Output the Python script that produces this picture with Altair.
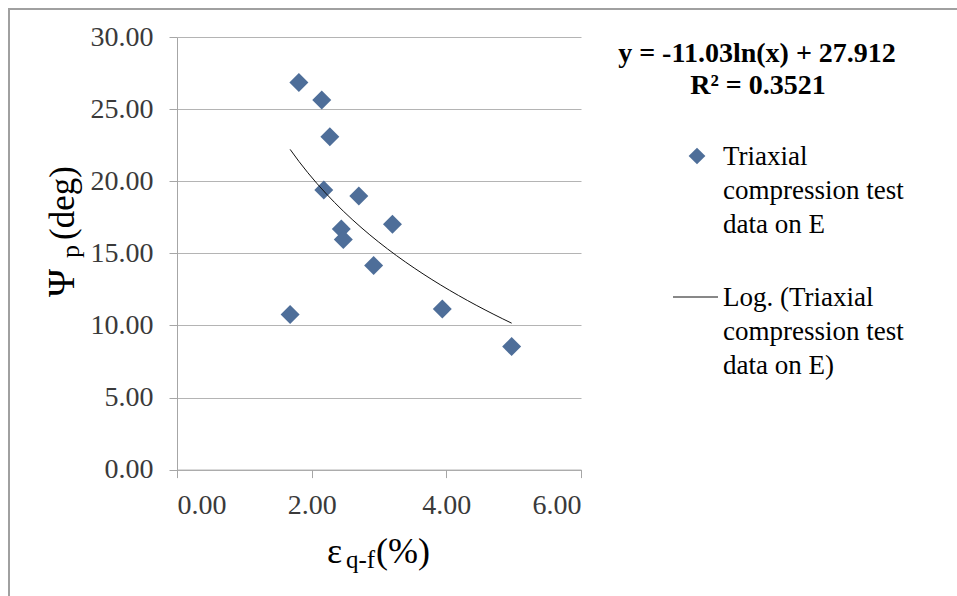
import altair as alt
import pandas as pd

# ---- data ----
strain = [1.81, 2.15, 2.27, 2.18, 2.70, 2.44, 2.47, 3.20, 2.92, 1.68, 3.94, 4.97]
psi = [26.84, 25.63, 23.09, 19.39, 18.97, 16.69, 15.95, 17.01, 14.15, 10.75, 11.14, 8.53]
x_ticks = [0, 2, 4, 6]
y_ticks = [0, 5, 10, 15, 20, 25, 30]
eq_lines = ["y = -11.03ln(x) + 27.912", "R\u00b2 = 0.3521"]
legend_pts = ["Triaxial", "compression test", "data on E"]
legend_fit = ["Log. (Triaxial", "compression test", "data on E)"]

df = pd.DataFrame({"x": strain, "y": psi})

SERIF = "Liberation Serif"
BLUE = "#4E6E99"
W, H = 404, 432.6
L, T = 177, 37

base = alt.Chart(df)

xs = alt.X("x:Q", scale=alt.Scale(domain=[0, 6], nice=False),
           axis=alt.Axis(values=x_ticks, format=".2f", title=None, grid=False,
                         tickSize=8, labelPadding=14, labelFontSize=28,
                         labelFont=SERIF, labelColor="#3a3a3a",
                         domainColor="#a6a6a6", tickColor="#a6a6a6"))
ys = alt.Y("y:Q", scale=alt.Scale(domain=[0, 30], nice=False),
           axis=alt.Axis(values=y_ticks, format=".2f", title=None, grid=True,
                         gridColor="#b4b4b4", tickSize=8, labelPadding=16,
                         labelFontSize=28, labelFont=SERIF, labelColor="#3a3a3a",
                         domainColor="#a6a6a6", tickColor="#a6a6a6"))

points = base.mark_point(shape="diamond", filled=True, size=360, opacity=1,
                         color=BLUE).encode(x=xs, y=ys)

trend = base.transform_regression("x", "y", method="log").mark_line(
    color="#111111", strokeWidth=1).encode(x="x:Q", y="y:Q")


def txt(s, x, y, size, bold=False, align="left", angle=0, baseline="middle"):
    kw = dict(font=SERIF, fontSize=size, color="black", align=align,
              baseline=baseline, fontWeight="bold" if bold else "normal")
    if angle:
        kw["angle"] = angle
    return alt.Chart(pd.DataFrame({"t": [s]})).mark_text(**kw).encode(
        x=alt.value(x), y=alt.value(y), text="t:N")


layers = [points, trend]

# equation
layers.append(txt(eq_lines[0], 580, 17, 28, bold=True, align="center"))
layers.append(txt(eq_lines[1], 581, 49, 28, bold=True, align="center"))

# legend
legend_marker = alt.Chart(pd.DataFrame({"k": [0]})).mark_point(
    shape="diamond", filled=True, size=280, opacity=1, color=BLUE).encode(
    x=alt.value(520), y=alt.value(119))
legend_line = alt.Chart(pd.DataFrame({"k": [0]})).mark_rule(
    color="#111111", strokeWidth=1).encode(
    x=alt.value(496), x2=alt.value(541), y=alt.value(260))
layers += [legend_marker, legend_line]
for i, s in enumerate(legend_pts):
    layers.append(txt(s, 546, 120 + 34 * i, 27))
for i, s in enumerate(legend_fit):
    layers.append(txt(s, 546, 261 + 34 * i, 27))

# y title (rotated, with subscript)
layers.append(txt("\u03a8", -103, 260, 38, angle=270, baseline="alphabetic"))
layers.append(txt("p", -98, 221, 26, angle=270, baseline="alphabetic"))
layers.append(txt("(deg)", -103, 203, 35, angle=270, baseline="alphabetic"))

# x title (with subscript)
layers.append(txt("\u03b5", 150, 526, 36, baseline="alphabetic"))
layers.append(txt("q-f", 169, 531, 25, baseline="alphabetic"))
layers.append(txt("(%)", 199, 526, 36, baseline="alphabetic"))

# frame lines of the reference figure
frame_top = alt.Chart(pd.DataFrame({"k": [0]})).mark_rule(
    color="#a0a0a0", strokeWidth=2).encode(
    x=alt.value(8 - L), x2=alt.value(957 - L), y=alt.value(9 - T))
frame_left = alt.Chart(pd.DataFrame({"k": [0]})).mark_rule(
    color="#a0a0a0", strokeWidth=2).encode(
    x=alt.value(9 - L), y=alt.value(8 - T), y2=alt.value(596 - T))
layers += [frame_top, frame_left]

chart = alt.layer(*layers).properties(
    width=W, height=H,
    padding={"left": L, "top": T, "right": 957 - L - W, "bottom": 596 - T - H},
    autosize=alt.AutoSizeParams(type="none"),
    background="white",
).configure_view(stroke=None)

chart.save("out.html", embed_options={"renderer": "svg", "actions": False})
